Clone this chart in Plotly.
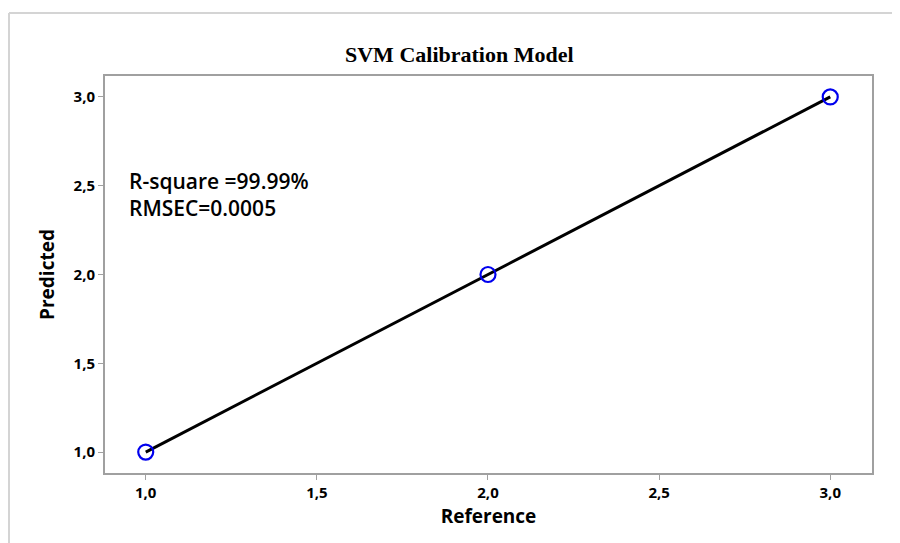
import plotly.graph_objects as go

reference = [1.0, 2.0, 3.0]
predicted = [1.0, 2.0, 3.0]
fit_x = [1.0, 2.0, 3.0]
fit_y = [1.0, 2.0, 3.0]
tick_vals = [1.0, 1.5, 2.0, 2.5, 3.0]

OFF = 8  # browser body margin
W, H = 900 - OFF, 543 - OFF
L, R, T, B = 105 - OFF, 900 - 872, 76 - OFF, 543 - 473
pw, ph = W - L - R, H - T - B

def px2paper_x(px):
    return (px - OFF - L) / pw

def px2paper_y(py):
    return (H - B - (py - OFF)) / ph

fig = go.Figure()
fig.add_trace(go.Scatter(x=fit_x, y=fit_y, mode="lines",
                         line=dict(color="black", width=3), showlegend=False))
fig.add_trace(go.Scatter(x=reference, y=predicted, mode="markers",
                         marker=dict(symbol="circle-open", size=15,
                                     color="#0000ee", line=dict(width=2.2, color="#0000ee")),
                         showlegend=False))

axis_common = dict(showgrid=False, zeroline=False, showline=True, mirror=True,
                   linecolor="#a0a0a0", linewidth=2, ticks="outside", ticklen=5,
                   tickcolor="#a0a0a0", tickwidth=1, tickvals=tick_vals, tickformat=".1f",
                   tickfont=dict(family="Open Sans", size=15, color="black", weight="bold"))

fig.update_layout(
    width=W, height=H, separators=", ",
    margin=dict(l=L, r=R, t=T, b=B),
    plot_bgcolor="white", paper_bgcolor="white",
    xaxis=dict(range=[0.881, 3.122], **axis_common,
               title=dict(text="Reference", standoff=9,
                          font=dict(family="Open Sans", size=19, color="black", weight="bold"))),
    yaxis=dict(range=[0.882, 3.118], **axis_common,
               title=dict(text="Predicted", standoff=14,
                          font=dict(family="Open Sans", size=19, color="black", weight="bold"))),
    annotations=[
        dict(text="SVM Calibration Model", xref="paper", yref="paper",
             x=px2paper_x(459), y=px2paper_y(55), xanchor="center", yanchor="middle",
             showarrow=False,
             font=dict(family="Liberation Serif", size=22, color="black", weight="bold")),
        dict(text="R-square =99.99%", xref="paper", yref="paper",
             x=px2paper_x(127), y=px2paper_y(181), xanchor="left", yanchor="middle",
             showarrow=False,
             font=dict(family="Open Sans", size=21, color="black", weight=600)),
        dict(text="RMSEC=0.0005", xref="paper", yref="paper",
             x=px2paper_x(127), y=px2paper_y(208), xanchor="left", yanchor="middle",
             showarrow=False,
             font=dict(family="Open Sans", size=21, color="black", weight=600)),
    ],
    shapes=[
        dict(type="line", xref="paper", yref="paper",
             x0=px2paper_x(9), x1=px2paper_x(9), y0=px2paper_y(560), y1=px2paper_y(13),
             line=dict(color="#d4d4d4", width=2)),
        dict(type="line", xref="paper", yref="paper",
             x0=px2paper_x(9), x1=px2paper_x(910), y0=px2paper_y(13), y1=px2paper_y(13),
             line=dict(color="#d4d4d4", width=2)),
    ],
)

fig.write_html("out.html")
